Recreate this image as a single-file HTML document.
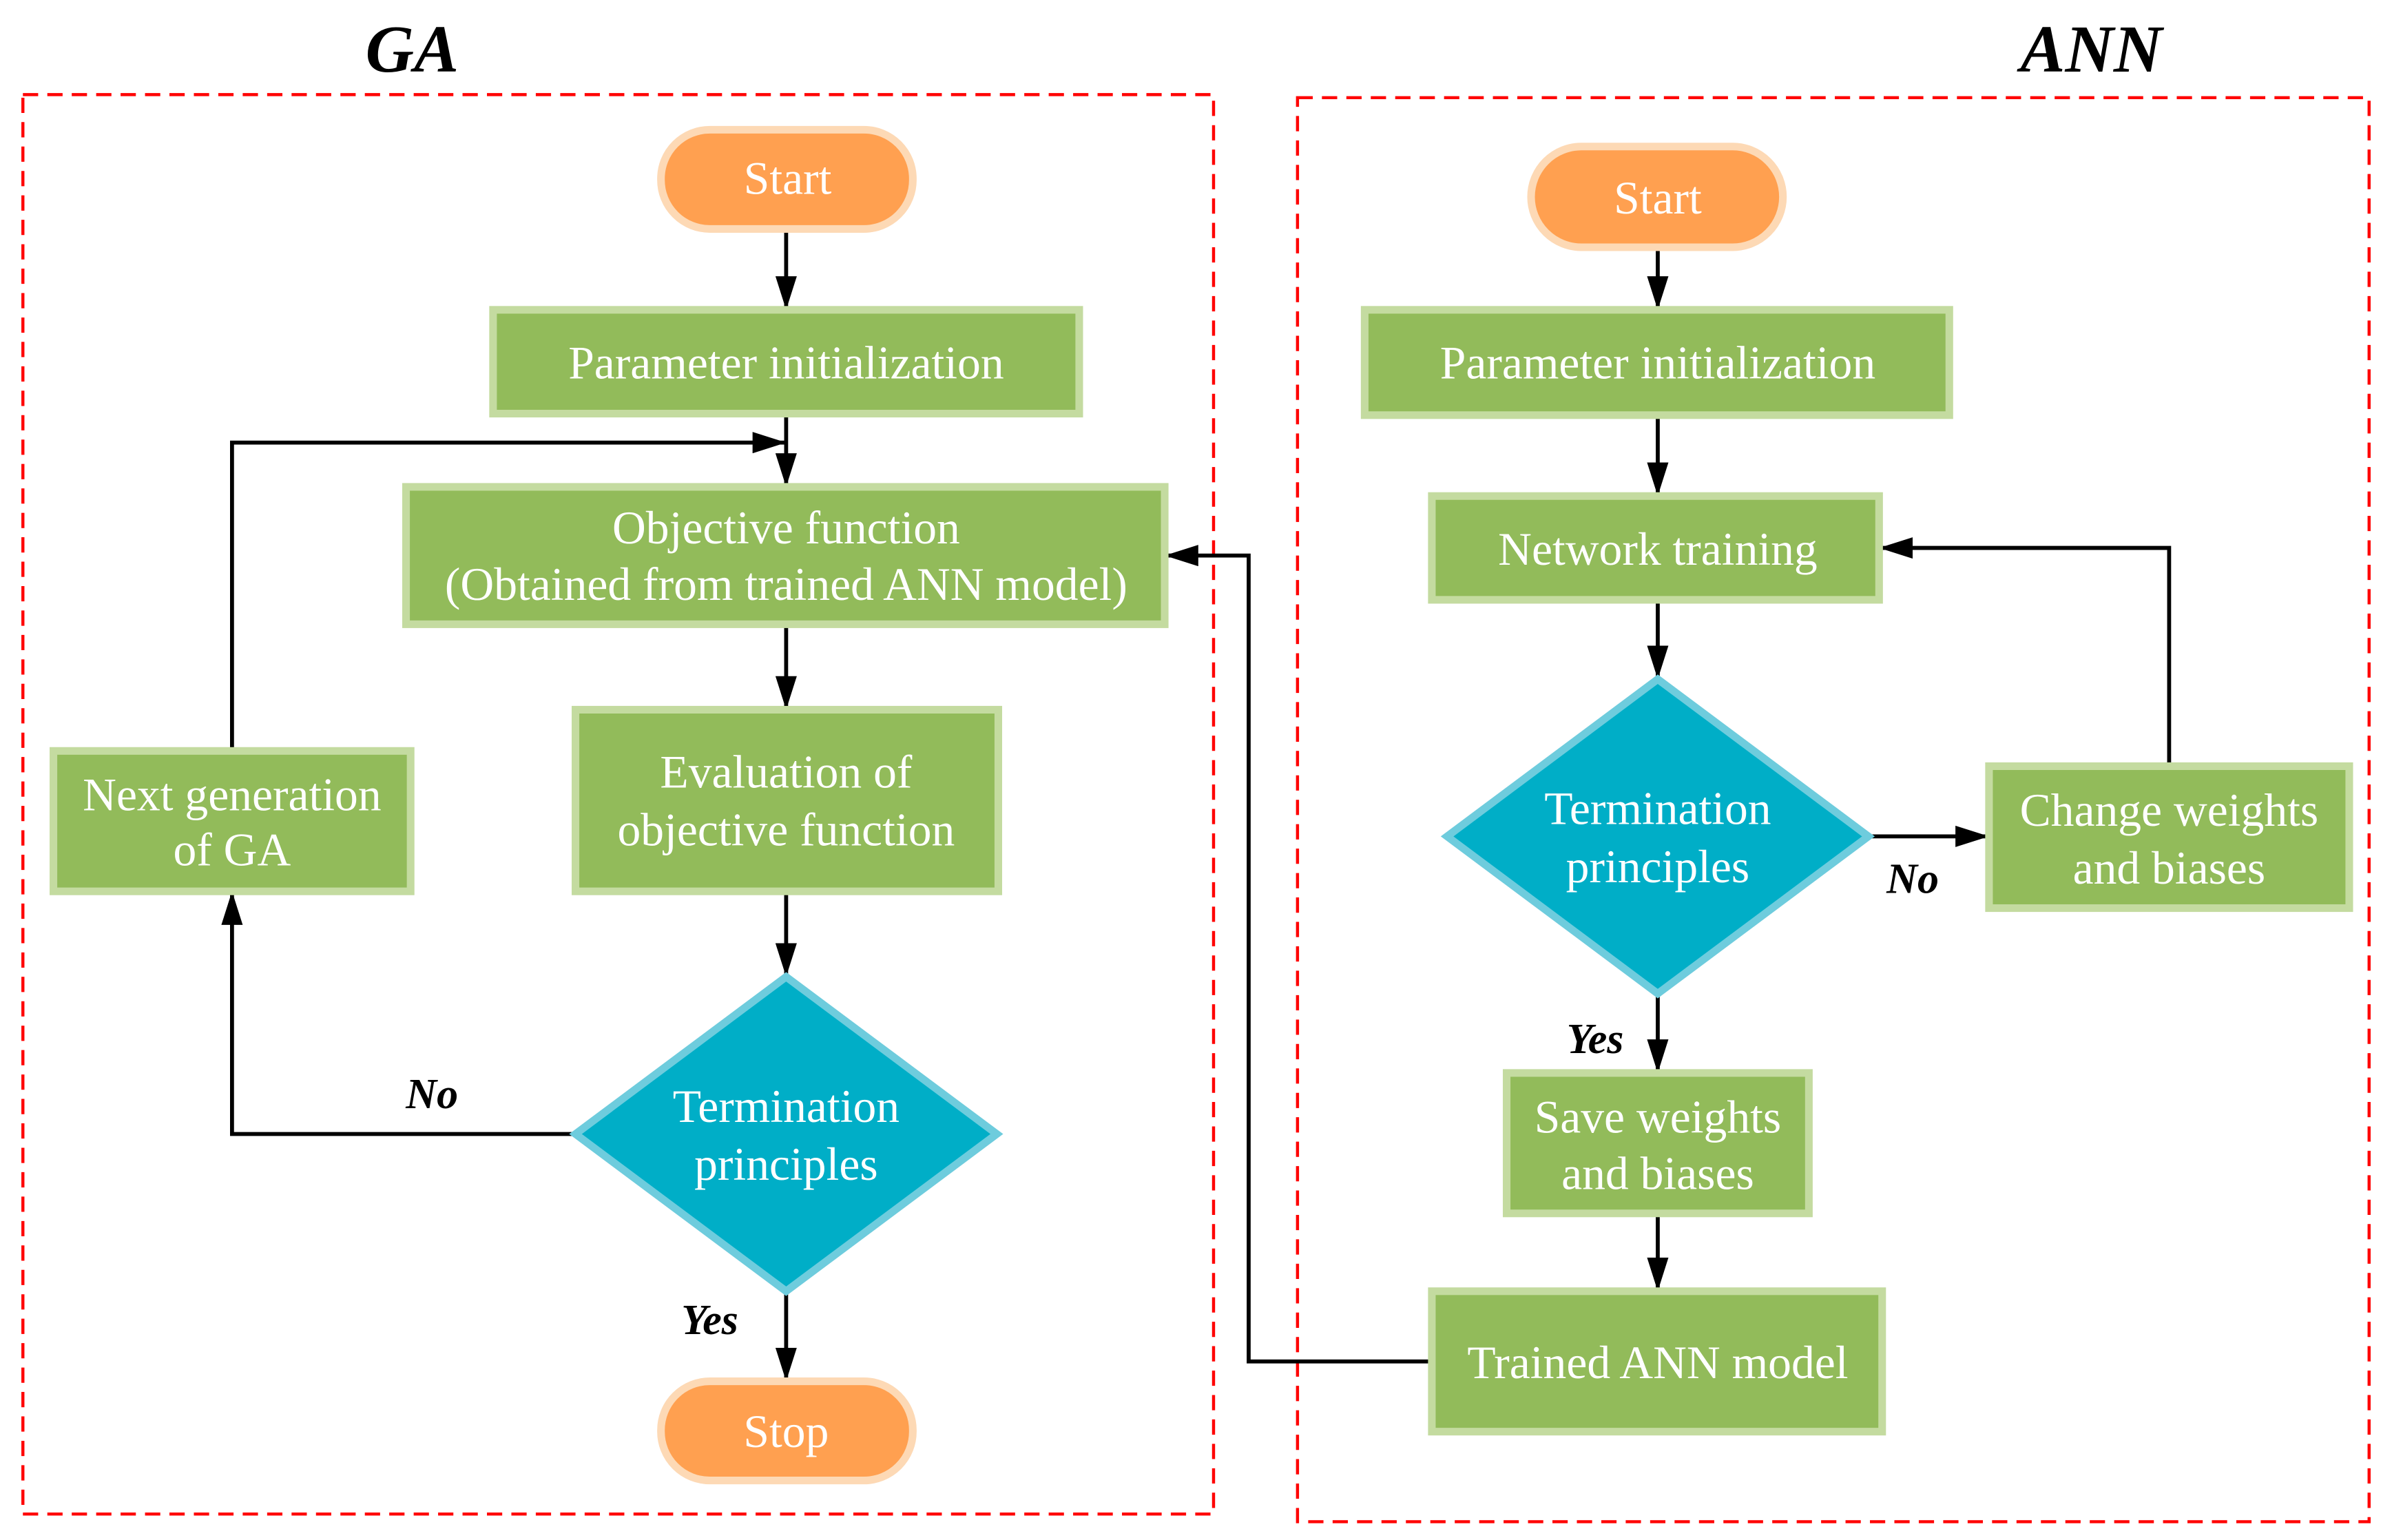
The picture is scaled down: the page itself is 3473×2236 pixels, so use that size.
<!DOCTYPE html>
<html><head><meta charset="utf-8"><style>html,body{margin:0;padding:0;background:#fff}svg{display:block}</style></head>
<body>
<svg width="3473" height="2236" viewBox="0 0 1567 1009" preserveAspectRatio="none" xmlns="http://www.w3.org/2000/svg" font-family="Liberation Serif, serif">
<defs>
<marker id="b" viewBox="0 0 22 14" markerWidth="22" markerHeight="14" refX="22" refY="7" orient="auto" markerUnits="userSpaceOnUse"><path d="M0,0 L22,7 L0,14 z" fill="#000"/></marker></defs>
<g font-style="italic" font-weight="bold" font-size="44" text-anchor="middle"><text x="270" y="47">GA</text><text x="1370" y="47">ANN</text></g>
<g fill="none" stroke="#f00" stroke-width="2" stroke-dasharray="10,6"><rect x="15" y="62" width="780" height="930"/><rect x="850" y="64" width="702" height="933"/></g>
<g stroke="#000" stroke-width="2.6" fill="none" marker-end="url(#b)">
<path d="M515 150V203"/><path d="M515 271V319"/><path d="M152 492V290H515"/><path d="M515 409V465"/><path d="M515 584V640"/><path d="M377 743H152V584"/><path d="M515 846V905"/>
<path d="M1086 162V203"/><path d="M1086 272V325"/><path d="M1086 393V445"/><path d="M1224 548H1303"/><path d="M1421 502V359H1231"/><path d="M1086 651V703"/><path d="M1086 795V846"/><path d="M938 892H818V364H763"/>
</g>
<g fill="#FFA050" stroke="#FDD9B5" stroke-width="5"><rect x="433" y="85" width="165" height="65" rx="32"/><rect x="433" y="905" width="165" height="65" rx="32"/><rect x="1003" y="96" width="165" height="66" rx="33"/></g>
<g fill="#92BB5A" stroke="#C4DBA0" stroke-width="5">
<rect x="323" y="203" width="384" height="68"/><rect x="266" y="319" width="497" height="90"/><rect x="377" y="465" width="277" height="119"/><rect x="35" y="492" width="234" height="92"/>
<rect x="894" y="203" width="383" height="69"/><rect x="938" y="325" width="293" height="68"/><rect x="1303" y="502" width="236" height="93"/><rect x="987" y="703" width="198" height="92"/><rect x="938" y="846" width="295" height="92"/></g>
<g fill="#00AEC7" stroke="#6ECCDD" stroke-width="5"><path d="M515 640L653 743L515 846L377 743z"/><path d="M1086 445L1224 548L1086 651L948 548z"/></g>
<g fill="#fff" font-size="30.5" text-anchor="middle">
<text x="516" y="127">Start</text><text x="515" y="948">Stop</text><text x="1086" y="140">Start</text>
<text x="515" y="248">Parameter initialization</text>
<text x="515" y="356">Objective function</text><text x="515" y="393">(Obtained from trained ANN model)</text>
<text x="515" y="516">Evaluation of</text><text x="515" y="554">objective function</text>
<text x="152" y="531">Next generation</text><text x="152" y="567">of GA</text>
<text x="515" y="735">Termination</text><text x="515" y="773">principles</text>
<text x="1086" y="248">Parameter initialization</text><text x="1086" y="370">Network training</text>
<text x="1086" y="540">Termination</text><text x="1086" y="578">principles</text>
<text x="1421" y="541">Change weights</text><text x="1421" y="579">and biases</text>
<text x="1086" y="742">Save weights</text><text x="1086" y="779">and biases</text>
<text x="1086" y="903">Trained ANN model</text></g>
<g font-style="italic" font-weight="bold" font-size="28" text-anchor="middle"><text x="283" y="726">No</text><text x="465" y="874">Yes</text><text x="1253" y="585">No</text><text x="1045" y="690">Yes</text></g>
</svg>
</body></html>
